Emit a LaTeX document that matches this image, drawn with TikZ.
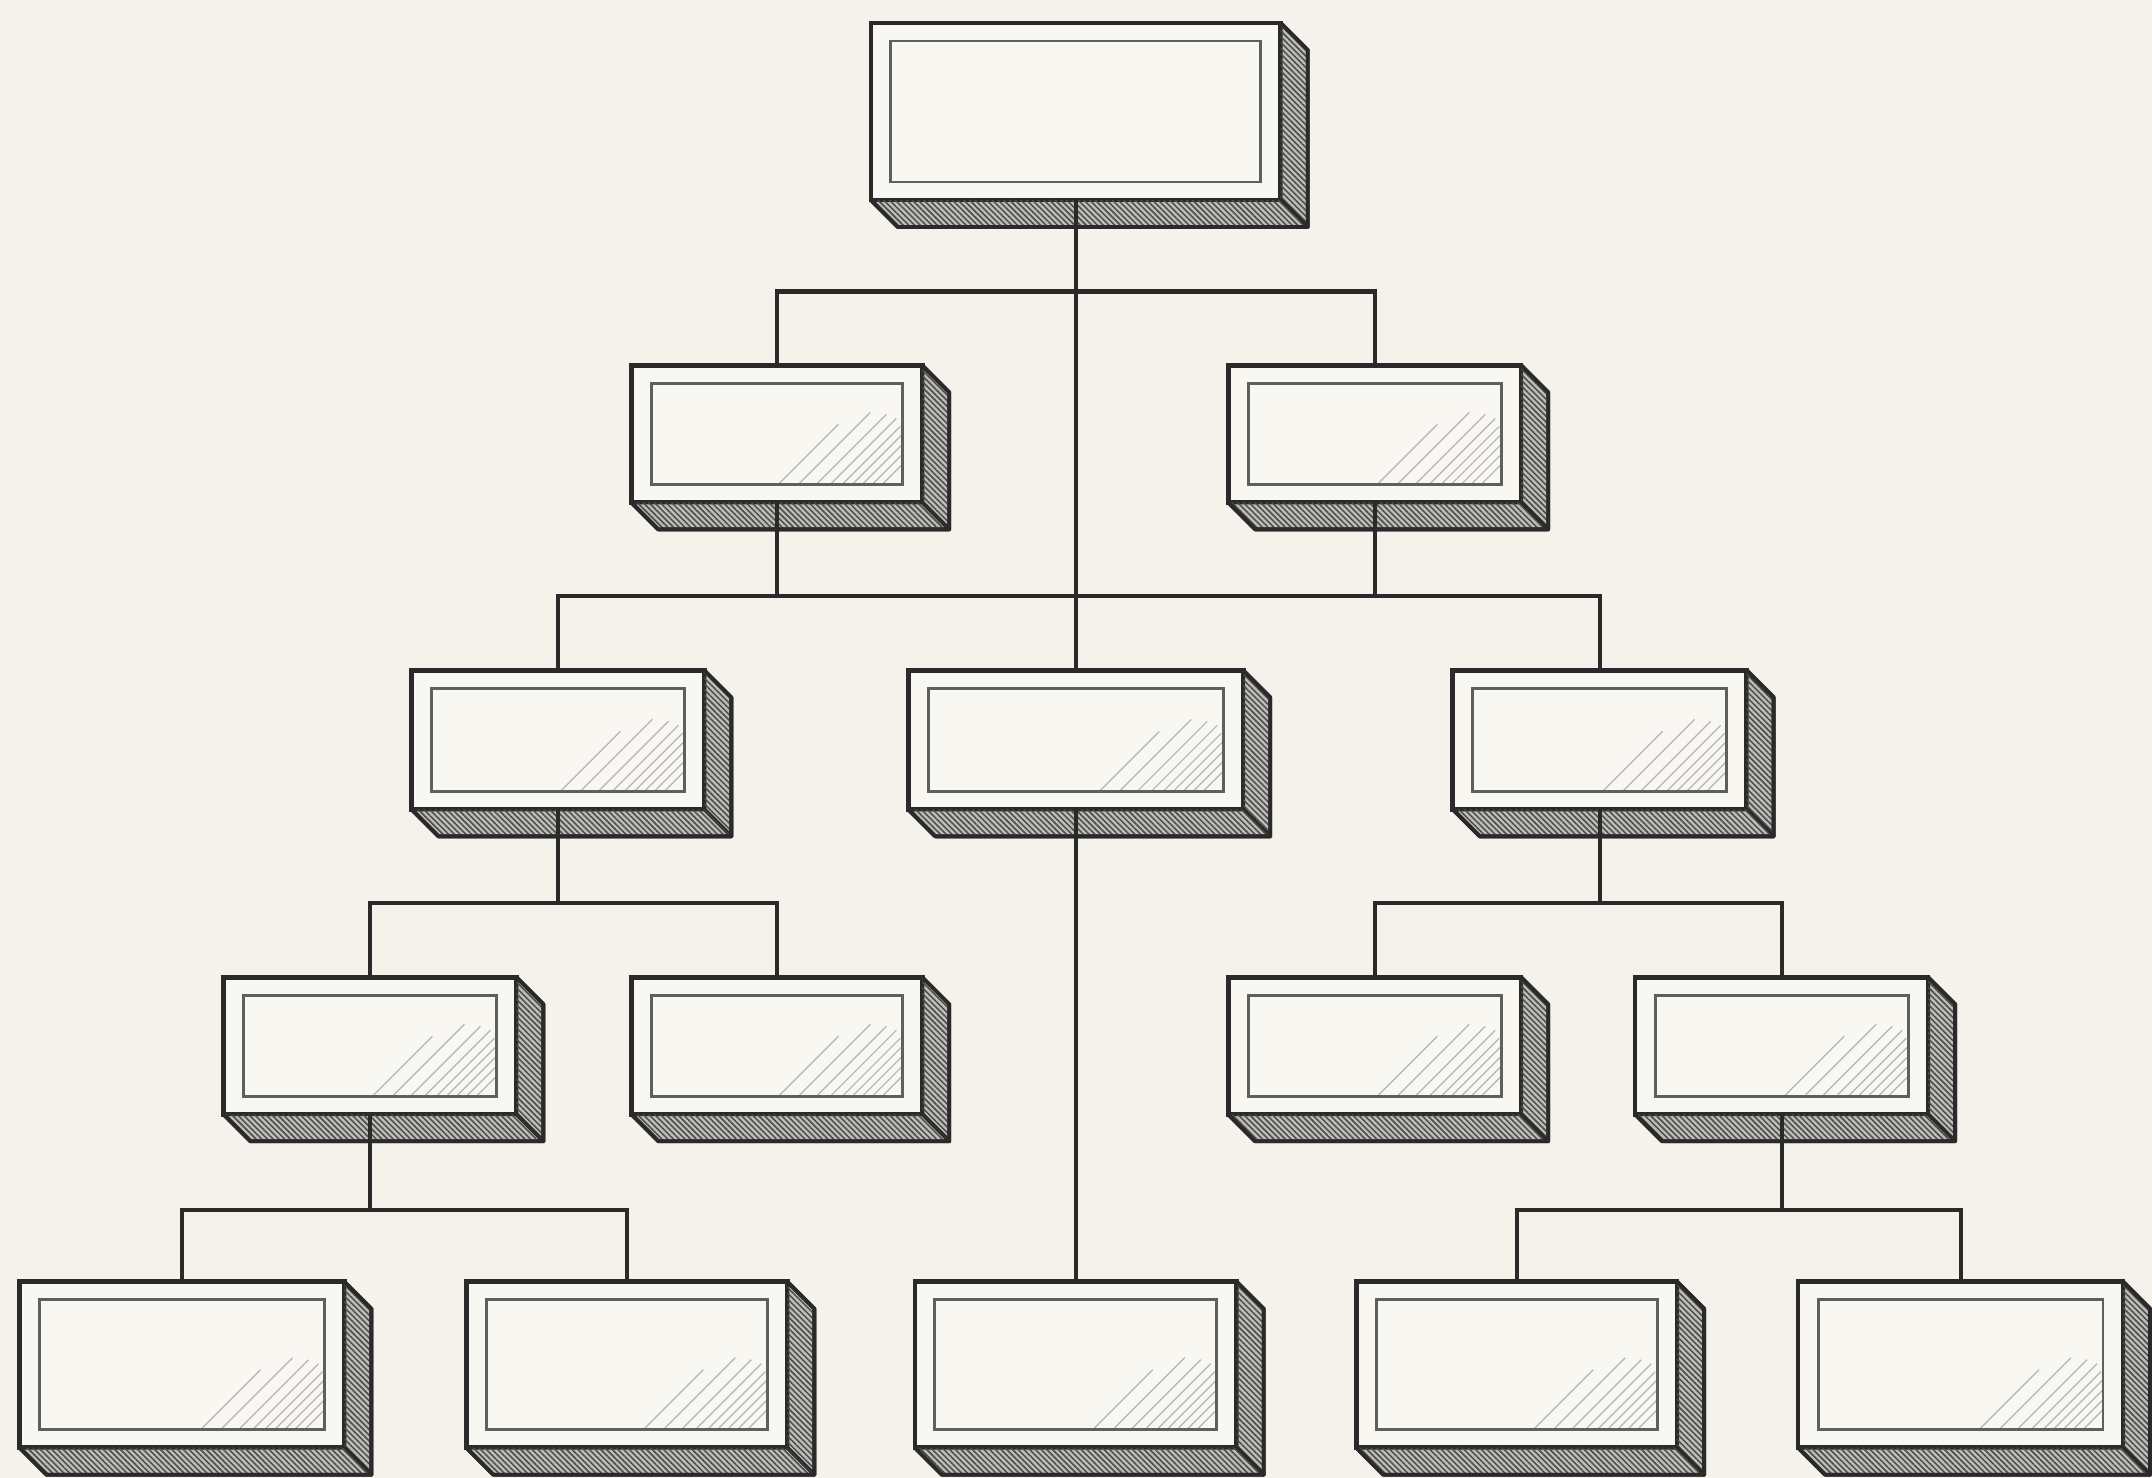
\documentclass[tikz,border=0pt]{standalone}
\usetikzlibrary{calc,patterns.meta}
\definecolor{paper}{HTML}{F4F2EA}
\definecolor{face}{HTML}{F8F7F1}
\definecolor{ink}{HTML}{2A2A2A}
\definecolor{sideg}{HTML}{BDBCB6}
\tikzset{
  frontbox/.style={rectangle, draw=ink, line width=1.3pt, fill=face, inner sep=0pt, outer sep=0pt},
  sideface/.style={fill=sideg, draw=ink, line width=1.1pt, line join=round},
  hatch/.style={pattern={Lines[angle=-45,distance=1.15pt,line width=0.42pt]}, pattern color=ink!85},
  innerframe/.style={draw=ink!75, line width=0.8pt},
  glare/.style={draw=ink!35, line width=0.35pt},
  conn/.style={draw=ink, line width=1.2pt},
}
% #1 name, #2 cx, #3 cy, #4 width px, #5 height px, #6 glare 1/0
\newcommand\orgbox[6]{%
  \node[frontbox, minimum width=#4*0.01cm, minimum height=#5*0.01cm] (#1) at (#2,#3) {};
  \coordinate (#1-ne2) at ($(#1.north east)+(27,27)$);
  \coordinate (#1-se2) at ($(#1.south east)+(27,27)$);
  \coordinate (#1-sw2) at ($(#1.south west)+(27,27)$);
  \path[sideface] (#1.north east) -- (#1-ne2) -- (#1-se2) -- (#1.south east) -- cycle;
  \path[hatch] (#1.north east) -- (#1-ne2) -- (#1-se2) -- (#1.south east) -- cycle;
  \path[sideface] (#1.south west) -- (#1-sw2) -- (#1-se2) -- (#1.south east) -- cycle;
  \path[hatch] (#1.south west) -- (#1-sw2) -- (#1-se2) -- (#1.south east) -- cycle;
  \draw[ink, line width=1.1pt, line join=round] (#1.north east) -- (#1-ne2) -- (#1-se2) -- (#1-sw2) -- (#1.south west);
  \coordinate (#1-inw) at ($(#1.north west)+(20,18)$);
  \coordinate (#1-ise) at ($(#1.south east)+(-20,-18)$);
  \ifnum#6=1
    \foreach \gl/\ln in {20/20,30/30,40/40,50/50,60/58,72/66,86/70,104/72,124/60}{
      \draw[glare] ($(#1-ise)+(-\gl,0)$) -- ++(\ln,-\ln);
    }
  \fi
  \draw[innerframe] (#1-inw) rectangle (#1-ise);
}
\begin{document}
\begin{tikzpicture}[x=0.01cm, y=-0.01cm]
  \fill[paper] (0,0) rectangle (2152,1478);
  % level 1
  \orgbox{T}{1076}{111.5}{410}{177}{0}
  % level 2
  \orgbox{A}{777}{434}{291}{137}{1}
  \orgbox{B}{1375}{434}{293}{137}{1}
  % level 3
  \orgbox{C}{558}{740}{293}{139}{1}
  \orgbox{D}{1076}{740}{335}{139}{1}
  \orgbox{E}{1600}{740}{294}{139}{1}
  % level 4
  \orgbox{F}{370}{1046}{293}{137}{1}
  \orgbox{G}{777}{1046}{291}{137}{1}
  \orgbox{H}{1375}{1046}{293}{137}{1}
  \orgbox{I}{1782}{1046}{293}{137}{1}
  % level 5
  \orgbox{J}{182}{1365}{325}{166}{1}
  \orgbox{K}{627}{1365}{321}{166}{1}
  \orgbox{L}{1076}{1365}{322}{166}{1}
  \orgbox{M}{1517}{1365}{321}{166}{1}
  \orgbox{N}{1961}{1365}{325}{166}{1}
  % connectors
  \draw[conn] (A.north) -- ++(0,-74) coordinate (bus1) -| (B.north);
  \draw[conn] (T.south) -- (D.north);
  \draw[conn] (C.north) -- ++(0,-74) coordinate (bus2) -| (E.north);
  \draw[conn] (A.south) -- (A.south |- bus2);
  \draw[conn] (B.south) -- (B.south |- bus2);
  \draw[conn] (F.north) -- ++(0,-74) coordinate (bus3) -| (G.north);
  \draw[conn] (C.south) -- (C.south |- bus3);
  \draw[conn] (H.north) -- ++(0,-74) coordinate (bus3r) -| (I.north);
  \draw[conn] (E.south) -- (E.south |- bus3r);
  \draw[conn] (J.north) -- ++(0,-72) coordinate (bus4) -| (K.north);
  \draw[conn] (F.south) -- (F.south |- bus4);
  \draw[conn] (M.north) -- ++(0,-72) coordinate (bus4r) -| (N.north);
  \draw[conn] (I.south) -- (I.south |- bus4r);
  \draw[conn] (D.south) -- (L.north);
\end{tikzpicture}
\end{document}
